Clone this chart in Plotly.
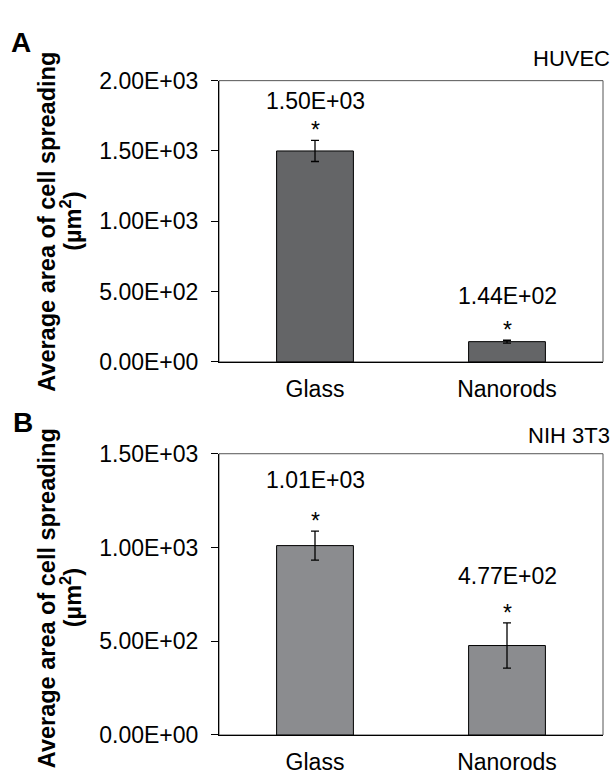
import plotly.graph_objects as go

# ---- data ----
categories = ["Glass", "Nanorods"]
huvec_values = [1500, 144]
huvec_errors = [75, 10]
huvec_labels = ["1.50E+03", "1.44E+02"]
nih_values = [1010, 477]
nih_errors = [77, 121]
nih_labels = ["1.01E+03", "4.77E+02"]
huvec_ticks = [0, 500, 1000, 1500, 2000]
huvec_ticktext = ["0.00E+00", "5.00E+02", "1.00E+03", "1.50E+03", "2.00E+03"]
nih_ticks = [0, 500, 1000, 1500]
nih_ticktext = ["0.00E+00", "5.00E+02", "1.00E+03", "1.50E+03"]

W, H = 614, 776
FONT = "Liberation Sans, Arial, sans-serif"
fig = go.Figure()

fig.add_trace(go.Bar(
    x=categories, y=huvec_values, width=0.4,
    marker=dict(color="#646567", line=dict(color="#000000", width=1)),
    error_y=dict(type="data", array=huvec_errors, color="#000000", thickness=1.3, width=4),
    xaxis="x", yaxis="y", showlegend=False))
fig.add_trace(go.Bar(
    x=categories, y=nih_values, width=0.4,
    marker=dict(color="#8b8c8f", line=dict(color="#000000", width=1)),
    error_y=dict(type="data", array=nih_errors, color="#000000", thickness=1.3, width=4),
    xaxis="x2", yaxis="y2", showlegend=False))

xdom = [219 / W, 603 / W]
ydomA = [(H - 361) / H, (H - 70) / H]
ydomB = [(H - 747) / H, (H - 456) / H]

tickfont = dict(family=FONT, size=23, color="#000000")
common_y = dict(showline=True, linecolor="#000000", linewidth=1, ticks="outside",
                ticklen=7, tickcolor="#000000", showgrid=False, zeroline=False,
                tickfont=tickfont, ticklabelstandoff=8)
common_x = dict(showline=True, linecolor="#000000", linewidth=1, ticks="",
                showgrid=False, zeroline=False, tickfont=tickfont,
                range=[-0.5, 1.5], type="category", ticklabelstandoff=6)

fig.update_layout(
    width=W, height=H, margin=dict(l=0, r=0, t=0, b=0),
    paper_bgcolor="white", plot_bgcolor="rgba(0,0,0,0)",
    xaxis=dict(domain=xdom, anchor="y", **common_x),
    yaxis=dict(domain=ydomA, anchor="x", range=[0, 2000], tickvals=huvec_ticks,
               ticktext=huvec_ticktext, **common_y),
    xaxis2=dict(domain=xdom, anchor="y2", **common_x),
    yaxis2=dict(domain=ydomB, anchor="x2", range=[0, 1500], tickvals=nih_ticks,
                ticktext=nih_ticktext, **common_y),
    bargap=0.6,
)

# gray frame (top/right)
for xr, yr in [("x domain", "y domain"), ("x2 domain", "y2 domain")]:
    fig.add_shape(type="rect", xref=xr, yref=yr, x0=0, x1=1, y0=0, y1=1,
                  line=dict(color="#555555", width=1), layer="below")

annfont = dict(family=FONT, size=23, color="#000000")
label_shifts_A = [39, 44]
label_shifts_B = [51, 47]
for xa, ya, vals, errs, labs, shifts in [
        ("x", "y", huvec_values, huvec_errors, huvec_labels, label_shifts_A),
        ("x2", "y2", nih_values, nih_errors, nih_labels, label_shifts_B)]:
    for c, v, e, lab, s in zip(categories, vals, errs, labs, shifts):
        fig.add_annotation(x=c, y=v + e, xref=xa, yref=ya, text=lab, showarrow=False,
                           xanchor="center", yanchor="middle", yshift=s, font=annfont)
        fig.add_annotation(x=c, y=v + e, xref=xa, yref=ya, text="*", showarrow=False,
                           xanchor="center", yanchor="middle", yshift=10, font=annfont)

def paper_text(x, y, text, size, bold=False, xanchor="center", angle=0):
    fig.add_annotation(x=x / W, y=1 - y / H, xref="paper", yref="paper",
                       text=f"<b>{text}</b>" if bold else text, textangle=angle,
                       xanchor=xanchor, yanchor="middle", showarrow=False,
                       font=dict(family=FONT, size=size, color="#000"))

# panel letters and cell-line labels
paper_text(21, 31, "A", 28, bold=True)
paper_text(23, 424, "B", 28, bold=True)
paper_text(612, 47, "HUVEC", 22, xanchor="right")
paper_text(612, 437, "NIH 3T3", 22, xanchor="right")

# y-axis titles (two lines each)
for yc in [(361 + 70) / 2 + 0.5, (747 + 456) / 2 + 4]:
    paper_text(47, yc, "Average area of cell spreading", 23.5, bold=True, angle=-90)
    paper_text(71, yc, "(µm<sup>2</sup>)", 23.5, bold=True, angle=-90)

fig.write_html("out.html", config={"displayModeBar": False},
               post_script="document.body.style.margin='0px';document.body.style.overflow='hidden';")
